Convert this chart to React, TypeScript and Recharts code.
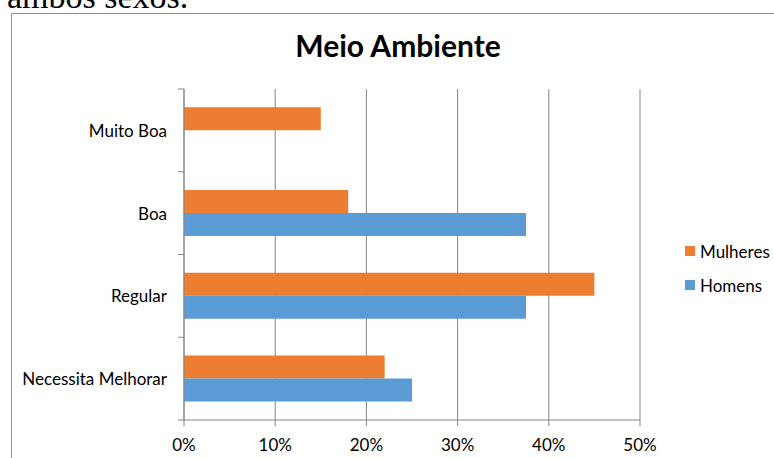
import { Bar, BarChart, CartesianGrid, XAxis, YAxis } from "recharts";

const categories = ["Muito Boa", "Boa", "Regular", "Necessita Melhorar"];
const mulheres = [15, 18, 45, 22];
const homens = [0, 37.5, 37.5, 25];
const xTicks = [0, 10, 20, 30, 40, 50];

const data = categories.map((name, i) => ({
  name,
  Mulheres: mulheres[i],
  Homens: homens[i],
}));

const W = 774;
const H = 458;
const PLOT_LEFT = 184;
const PLOT_RIGHT = 640;
const PLOT_TOP = 89;
const X_AXIS_H = 38;
const PLOT_BOTTOM = H - X_AXIS_H;
const BAND = (PLOT_BOTTOM - PLOT_TOP) / categories.length;

const FONT = "Lato, 'Open Sans', sans-serif";
const AXIS = "#868686";
const ORANGE = "#ED7D31";
const BLUE = "#5B9BD5";

const series = [
  { key: "Mulheres", color: ORANGE },
  { key: "Homens", color: BLUE },
];

function CategoryTick(props: any) {
  const { x, y, payload, index } = props;
  const half = BAND / 2;
  const last = index === categories.length - 1;
  return (
    <g>
      <line x1={PLOT_LEFT - 6} x2={PLOT_LEFT} y1={y - half} y2={y - half} stroke={AXIS} />
      {last && (
        <line x1={PLOT_LEFT - 6} x2={PLOT_LEFT} y1={y + half} y2={y + half} stroke={AXIS} />
      )}
      <text
        x={x}
        y={y}
        textAnchor="end"
        dominantBaseline="central"
        fontFamily={FONT}
        fontSize={17}
        fill="#000"
      >
        {payload.value}
      </text>
    </g>
  );
}

export default function App() {
  return (
    <div
      style={{
        position: "fixed",
        left: 0,
        top: 0,
        width: W,
        height: H,
        background: "#fff",
        overflow: "hidden",
      }}
    >
      <svg width={W} height={H} style={{ position: "absolute", left: 0, top: 0 }}>
        <text
          x={7}
          y={8}
          fontFamily="'Liberation Serif', 'Times New Roman', serif"
          fontSize={34}
          fill="#000"
        >
          ambos sexos.
        </text>
        <path d={`M11.5 ${H} V13.5 H${W}`} fill="none" stroke="#8f8f8f" />
        <text
          x={398}
          y={57}
          textAnchor="middle"
          fontFamily={FONT}
          fontWeight={700}
          fontSize={30}
          fill="#000"
        >
          Meio Ambiente
        </text>
      </svg>
      <div style={{ position: "absolute", left: 0, top: 0 }}>
        <BarChart
          width={W}
          height={H}
          data={data}
          layout="vertical"
          margin={{ top: PLOT_TOP, right: W - PLOT_RIGHT, bottom: 0, left: 0 }}
          barGap={0}
          barCategoryGap="22%"
        >
          <CartesianGrid horizontal={false} stroke={AXIS} />
          <XAxis
            type="number"
            domain={[0, 50]}
            ticks={xTicks}
            height={X_AXIS_H}
            tickFormatter={(v) => `${v}%`}
            stroke={AXIS}
            tickSize={6}
            tickMargin={13}
            tick={{ fill: "#000", fontFamily: FONT, fontSize: 17 }}
          />
          <YAxis
            type="category"
            dataKey="name"
            width={PLOT_LEFT}
            stroke={AXIS}
            tickLine={false}
            tickSize={6}
            tickMargin={11}
            tick={<CategoryTick />}
            interval={0}
          />
          {series.map((s) => (
            <Bar key={s.key} dataKey={s.key} fill={s.color} isAnimationActive={false} />
          ))}
        </BarChart>
      </div>
      {/* legend, stacked on the right of the plot */}
      <div
        style={{
          position: "absolute",
          left: 685,
          top: 234,
          fontFamily: FONT,
          fontSize: 17,
          color: "#000",
        }}
      >
        {series.map((s) => (
          <div key={s.key} style={{ display: "flex", alignItems: "center", height: 34 }}>
            <span
              style={{
                width: 10,
                height: 10,
                background: s.color,
                marginRight: 5,
                display: "inline-block",
              }}
            />
            {s.key}
          </div>
        ))}
      </div>
    </div>
  );
}
